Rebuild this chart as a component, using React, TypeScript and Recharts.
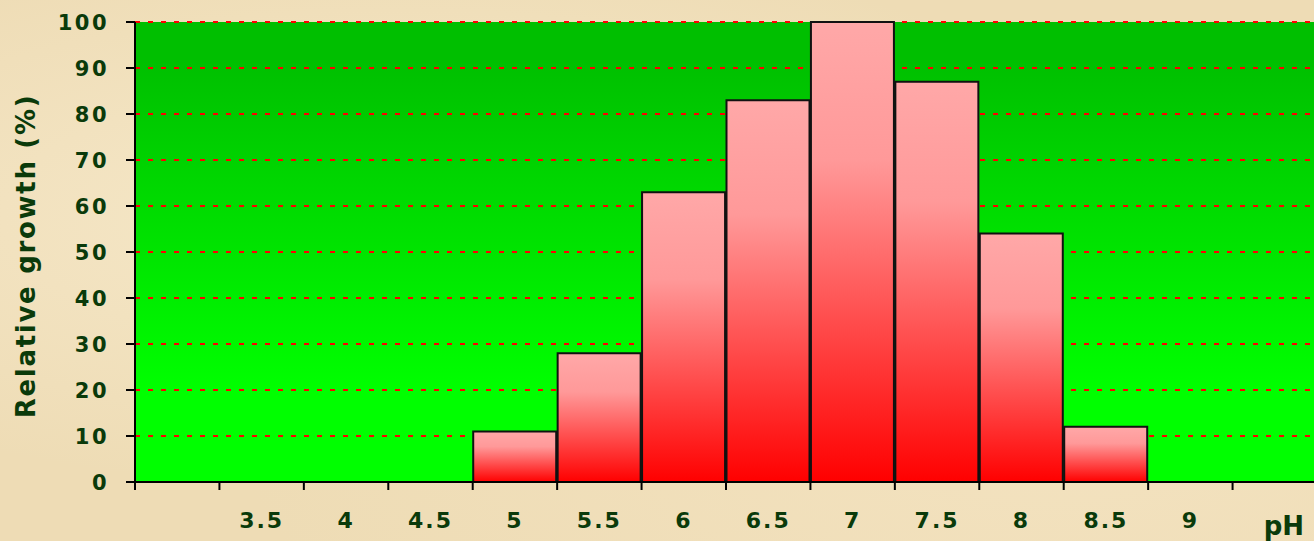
import React from "react";
import { BarChart, Bar, XAxis, YAxis, CartesianGrid, Label } from "recharts";

// pH categories (first and last slot are empty, as in the original sheet)
const categories = ["", "3.5", "4", "4.5", "5", "5.5", "6", "6.5", "7", "7.5", "8", "8.5", "9", " "];
const growth: (number | null)[] = [null, null, null, null, 11, 28, 63, 83, 100, 87, 54, 12, null, null];
const yTicks = [0, 10, 20, 30, 40, 50, 60, 70, 80, 90, 100];

const data = categories.map((ph, i) => ({ ph, growth: growth[i] }));

const TEXT = "#0a3a0a";
const FONT = "'DejaVu Sans', Verdana, sans-serif";

function XTick({ x, y, payload }: any) {
  const half = payload?.offset ?? 42.2;
  return (
    <g>
      <line x1={x - half} x2={x - half} y1={y} y2={y + 8} stroke="#000" strokeWidth={2} />
      <text
        x={x}
        y={y + 46}
        textAnchor="middle"
        fill={TEXT}
        fontFamily={FONT}
        fontSize={22}
        fontWeight="bold"
        letterSpacing={2}
      >
        {payload.value}
      </text>
    </g>
  );
}

function YTick({ x, y, payload }: any) {
  return (
    <text
      x={x}
      y={y}
      dy={7.6}
      textAnchor="end"
      fill={TEXT}
      fontFamily={FONT}
      fontSize={21}
      fontWeight="bold"
      letterSpacing={2.5}
    >
      {payload.value}
    </text>
  );
}

function YTitle({ viewBox }: any) {
  const cy = viewBox.y + viewBox.height / 2 + 4;
  return (
    <text
      transform={`translate(35, ${cy}) rotate(-90)`}
      x={0}
      y={0}
      textAnchor="middle"
      fill={TEXT}
      fontFamily={FONT}
      fontSize={26}
      fontWeight="bold"
      letterSpacing={1.7}
    >
      Relative growth (%)
    </text>
  );
}

function XTitle({ viewBox }: any) {
  return (
    <text
      x={1304}
      y={viewBox.y + 53}
      textAnchor="end"
      fill={TEXT}
      fontFamily={FONT}
      fontSize={26}
      fontWeight="bold"
    >
      pH
    </text>
  );
}

export default function App() {
  return (
    <div
      style={{
        position: "absolute",
        left: 0,
        top: 0,
        width: 1314,
        height: 541,
        overflow: "hidden",
        background:
          "radial-gradient(ellipse at 30% 40%, #f6e8c9 0%, rgba(246,232,201,0) 60%), radial-gradient(ellipse at 80% 80%, #f3e2bf 0%, rgba(243,226,191,0) 55%), #eedcb5",
      }}
    >
      <BarChart
        width={1314}
        height={541}
        data={data}
        margin={{ top: 22, right: -3, bottom: 0, left: 0 }}
        barCategoryGap={0.5}
      >
        <defs>
          <linearGradient id="plotBg" x1="0" y1="0" x2="0" y2="1">
            <stop offset="0.08" stopColor="#00bf00" />
            <stop offset="0.8" stopColor="#00ff00" />
          </linearGradient>
          <linearGradient id="barFill" x1="0" y1="0" x2="0" y2="1">
            <stop offset="0" stopColor="#ffa8a8" />
            <stop offset="0.3" stopColor="#ff9999" />
            <stop offset="1" stopColor="#ff0000" />
          </linearGradient>
        </defs>
        <CartesianGrid
          vertical={false}
          fill="url(#plotBg)"
          fillOpacity={1}
          stroke="#ff0000"
          strokeWidth={2}
          strokeDasharray="5 8"
        />
        <XAxis
          dataKey="ph"
          height={59}
          interval={0}
          tickSize={0}
          tickMargin={0}
          tickLine={false}
          axisLine={{ stroke: "#000", strokeWidth: 2 }}
          tick={<XTick />}
        >
          <Label content={<XTitle />} />
        </XAxis>
        <YAxis
          width={135}
          domain={[0, 100]}
          ticks={yTicks}
          interval={0}
          tickSize={9}
          tickMargin={17}
          tickLine={{ stroke: "#000", strokeWidth: 2 }}
          axisLine={{ stroke: "#000", strokeWidth: 2 }}
          tick={<YTick />}
        >
          <Label content={<YTitle />} />
        </YAxis>
        <Bar
          dataKey="growth"
          fill="url(#barFill)"
          stroke="#111"
          strokeWidth={2}
          isAnimationActive={false}
        />
      </BarChart>
    </div>
  );
}
